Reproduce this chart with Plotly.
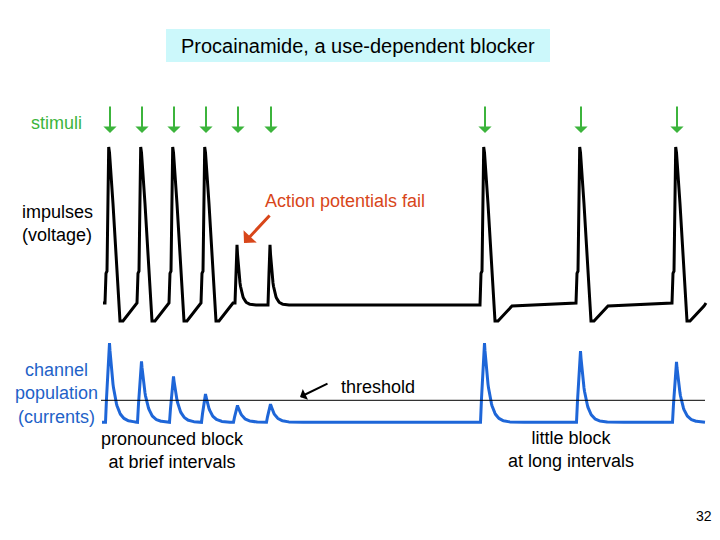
import numpy as np
import plotly.graph_objects as go

# ---------------- data ----------------
stimulus_times = [110, 142, 174, 206, 238, 271, 485, 581, 677]        # time units of the slide
impulse_peaks_mV = [30, 30, 30, 30, -39, -39, 30, 30, 30]              # AP peak voltage
current_peaks = [3.6, 2.77, 2.09, 1.29, 0.77, 0.83, 3.6, 3.24, 2.75]   # channel current (threshold = 1)
threshold_current = 1.0
rest_mV = -80.0
rest_after_fail_mV = -81.4
ramp_end_mV = -82.1
trough_mV = -92.7
foot_mV = -59.0
full_ap_min_mV = 0.0
trace_start, trace_end = 103, 706

# page geometry (the page body adds an 8px margin)
OFF = 8
W, H = 720, 540
FW, FH = W - OFF, H - OFF
GREEN = "#3cb43c"
BLUE = "#1e66d8"
BLUE_TXT = "#1f62c8"
RED = "#d8461a"
FONT = "Liberation Sans, Arial, sans-serif"


def px(x):
    return (x - OFF) / FW


def py(y):
    return 1 - (y - OFF) / FH


# ---------------- waveforms built from the data ----------------
def build_impulses():
    t, v = [trace_start], [rest_mV]
    n = len(stimulus_times)
    for i, (ts, vp) in enumerate(zip(stimulus_times, impulse_peaks_mV)):
        nxt = stimulus_times[i + 1] - 5 if i + 1 < n else trace_end
        if vp > full_ap_min_mV:
            seg = [(ts - 5, v[-1]), (ts - 4, foot_mV), (ts - 3, foot_mV + 1.5),
                   (ts - 1.3, vp), (ts - 0.5, vp - 4), (ts + 3, vp - 40),
                   (ts + 10, trough_mV), (ts + 13, trough_mV)]
            ramp_end = min(ts + 27, nxt)
            seg.append((ramp_end, ramp_end_mV if ramp_end < nxt else rest_mV))
            if nxt > ramp_end:
                seg.append((nxt, rest_mV))
        else:
            seg = [(ts - 3, v[-1]), (ts - 2, foot_mV), (ts - 1, vp)]
            tt = np.arange(ts - 0.5, min(ts + 25, nxt), 0.5)
            dec = rest_after_fail_mV + (vp - rest_after_fail_mV) * np.exp(-(tt - (ts - 1)) / 3.0)
            seg += list(zip(tt.tolist(), dec.tolist()))
            seg.append((nxt, rest_after_fail_mV))
        for a, b in seg:
            t.append(a)
            v.append(b)
    return t, v


def build_currents():
    t, c = [trace_start - 1], [0.0]
    n = len(stimulus_times)
    for i, (ts, cp) in enumerate(zip(stimulus_times, current_peaks)):
        nxt = stimulus_times[i + 1] - 5 if i + 1 < n else trace_end - 1
        t += [ts - 4.5, ts - 3.5, ts - 0.5]
        c += [0.0, 0.3 * cp, cp]
        tt = np.arange(ts, nxt, 0.5)
        c += (cp * np.exp(-(tt - (ts - 0.5)) / 4.8)).tolist()
        t += tt.tolist()
        t.append(nxt)
        c.append(0.0)
    return t, c


vt, vv = build_impulses()
ct, cc = build_currents()

fig = go.Figure()
fig.add_trace(go.Scatter(x=vt, y=vv, mode="lines", xaxis="x", yaxis="y",
                         line=dict(color="black", width=3), hoverinfo="skip"))
fig.add_trace(go.Scatter(x=ct, y=cc, mode="lines", xaxis="x", yaxis="y2",
                         line=dict(color=BLUE, width=3), hoverinfo="skip"))

# threshold line
fig.add_shape(type="line", xref="x", yref="y2", x0=trace_start - 2, x1=trace_end - 1,
              y0=threshold_current, y1=threshold_current, line=dict(color="black", width=1))

# title box
fig.add_shape(type="rect", xref="paper", yref="paper", x0=px(166), x1=px(550),
              y0=py(62), y1=py(29), fillcolor="#ccf8fb", line=dict(width=0), layer="below")

ann = []
# stimulus arrows
for ts in stimulus_times:
    ann.append(dict(x=ts, xref="x", y=py(133), yref="paper", text="", showarrow=True,
                    ax=0, ay=-28, arrowhead=1, arrowsize=1.1, arrowwidth=2,
                    arrowcolor=GREEN, standoff=0))


def text(x, y, s, size=18, color="black", xanchor="center", align="center"):
    ann.append(dict(x=px(x), y=py(y), xref="paper", yref="paper", text=s, showarrow=False,
                    xanchor=xanchor, yanchor="middle", align=align,
                    font=dict(family=FONT, size=size, color=color)))


text(358, 46, "Procainamide, a use-dependent blocker", size=20)
text(29, 123, "stimuli", color=GREEN, xanchor="left", align="left")
text(20, 223, "impulses<br>(voltage)", xanchor="left", align="left")
text(345, 201, "Action potentials fail", color=RED)
text(56, 393, "channel<br>population<br>(currents)", color=BLUE_TXT)
text(339, 387, "threshold", xanchor="left", align="left")
text(172, 450, "pronounced block<br>at brief intervals")
text(571, 449, "little block<br>at long intervals")
text(704, 516, "32", size=14)

# red arrow to failing AP
ann.append(dict(x=px(244), y=py(243), xref="paper", yref="paper", text="", showarrow=True,
                ax=27, ay=-29, arrowhead=1, arrowsize=1, arrowwidth=3, arrowcolor=RED, standoff=0))
# threshold arrow
ann.append(dict(x=px(300), y=py(397), xref="paper", yref="paper", text="", showarrow=True,
                ax=29, ay=-14, arrowhead=1, arrowsize=1, arrowwidth=2, arrowcolor="black", standoff=0))


def vdom(lo_px, hi_px):
    return [py(lo_px), py(hi_px)]


fig.update_layout(
    width=FW, height=FH, margin=dict(l=0, r=0, t=0, b=0, pad=0),
    paper_bgcolor="white", plot_bgcolor="white", showlegend=False,
    xaxis=dict(range=[OFF, W], domain=[0, 1], visible=False, fixedrange=True),
    yaxis=dict(range=[-100, 40], domain=vdom(331.4, 132.8), visible=False, fixedrange=True),
    yaxis2=dict(range=[-0.5, 4.0], domain=vdom(433.3, 334.3), anchor="x", visible=False, fixedrange=True),
    annotations=ann,
)

fig.write_html("out.html")
